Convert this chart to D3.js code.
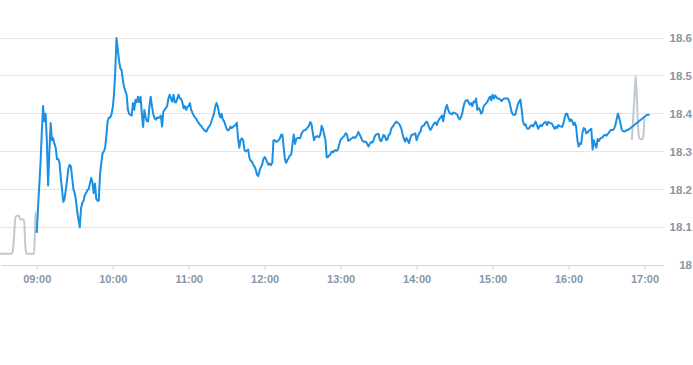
<!DOCTYPE html>
<html>
<head>
<meta charset="utf-8">
<script src="https://cdn.jsdelivr.net/npm/d3@7"></script>
<style>
  body { margin: 0; background: #fff; overflow: hidden; }
  svg { display: block; font-family: "Open Sans", "DejaVu Sans", sans-serif; }
</style>
</head>
<body>
<svg id="chart" width="693" height="365"></svg>
<script>
// session window shown on the x axis
const domainStart = "08:31";
const domainEnd = "17:15";
const yTicks = [18, 18.1, 18.2, 18.3, 18.4, 18.5, 18.6];

// pre / post market (grey)
const greyTimes = ["08:31", "08:40", "08:41", "08:42", "08:43", "08:44", "08:46", "08:47", "08:50", "08:51", "08:52", "08:58", "08:59", "09:00"];
const greyValues = [18.03, 18.03, 18.035, 18.07, 18.12, 18.13, 18.13, 18.12, 18.12, 18.05, 18.03, 18.03, 18.14, 18.085];
const greyTimes2 = ["16:50", "16:52", "16:53", "16:54", "16:55", "16:56", "16:58", "16:59", "17:00"];
const greyValues2 = [18.33, 18.44, 18.50, 18.44, 18.36, 18.335, 18.332, 18.34, 18.39];

// regular session, one value per minute from 09:00 (null = no trade)
const blueStart = "09:00";
const blueValues = [
  18.085, 18.15, 18.21, 18.27, 18.35, 18.42, 18.38, 18.40, 18.33, 18.21,
  18.30, 18.375, 18.33, 18.335, 18.32, 18.31, 18.28, 18.28, 18.27, 18.23,
  18.20, 18.167, 18.175, 18.20, 18.225, 18.255, 18.265, 18.26, 18.23, 18.20,
  18.19, 18.17, 18.14, 18.12, 18.10, 18.15, 18.164, 18.17, 18.185, 18.19,
  18.198, 18.20, 18.215, 18.23, 18.22, 18.19, 18.215, 18.175, 18.17, 18.17,
  18.24, 18.27, 18.295, 18.30, 18.31, 18.34, 18.38, 18.39, 18.39, 18.397,
  18.415, 18.45, 18.51, 18.60, 18.57, 18.54, 18.52, 18.515, 18.49, 18.47,
  18.46, 18.45, 18.41, 18.40, 18.397, 18.395, 18.428, 18.41, 18.437, 18.43,
  18.445, 18.43, 18.445, 18.40, 18.365, 18.41, 18.39, 18.38, 18.38, 18.42,
  18.445, 18.42, 18.40, 18.388, 18.384, 18.39, 18.388, 18.39, 18.395, 18.366,
  18.405, 18.41, 18.415, 18.42, 18.44, 18.45, 18.44, 18.432, 18.45, 18.43,
  18.43, 18.44, 18.45, 18.44, 18.44, 18.43, 18.414, 18.42, 18.41, 18.418,
  18.42, 18.428, 18.41, 18.402, 18.395, 18.39, 18.386, 18.38, 18.375, 18.37,
  18.367, 18.362, 18.358, 18.354, 18.353, 18.36, 18.366, 18.37, 18.38, 18.39,
  18.40, 18.418, 18.428, 18.42, 18.40, 18.39, 18.40, 18.384, 18.38, 18.37,
  18.36, 18.356, 18.358, 18.366, 18.362, 18.365, 18.368, 18.37, 18.376, 18.335,
  18.31, 18.33, 18.335, 18.33, 18.305, 18.30, 18.302, 18.305, 18.283, 18.275,
  18.273, 18.265, 18.26, 18.252, 18.238, 18.235, 18.25, 18.258, 18.265, 18.28,
  18.285, 18.28, 18.272, 18.265, 18.268, 18.264, 18.27, 18.33, 18.33, 18.326,
  18.326, 18.33, 18.334, 18.344, 18.345, 18.313, 18.28, 18.27, 18.278, 18.283,
  18.29, 18.292, 18.32, 18.345, 18.32, 18.333, 18.336, 18.336, 18.335, 18.346,
  18.352, 18.356, 18.356, 18.36, 18.364, 18.368, 18.378, 18.372, 18.35, 18.33,
  18.338, 18.34, 18.34, 18.338, 18.345, 18.368, 18.36, 18.345, 18.33, 18.285,
  18.285, 18.29, 18.293, 18.30, 18.298, 18.302, 18.304, 18.302, 18.306, 18.32,
  18.331, 18.335, 18.338, 18.342, 18.348, 18.345, 18.328, 18.33, 18.333, 18.335,
  18.338, 18.336, 18.338, 18.343, 18.352, 18.345, 18.338, 18.33, 18.326, 18.326,
  18.326, 18.32, 18.313, 18.32, 18.325, 18.324, 18.33, 18.34, 18.345, 18.346,
  18.346, 18.33, 18.327, 18.335, 18.344, 18.34, 18.33, 18.332, 18.344, 18.346,
  18.36, 18.365, 18.37, 18.375, 18.379, 18.376, 18.374, 18.368, 18.36, 18.345,
  18.333, 18.326, 18.336, 18.33, 18.322, 18.335, 18.344, 18.344, 18.346, 18.348,
  18.33, 18.34, 18.348, 18.352, 18.365, 18.368, 18.37, 18.376, 18.379, 18.372,
  18.363, 18.357, 18.363, 18.37, 18.375, 18.377, 18.37, 18.38, 18.386, 18.39,
  18.395, 18.38, 18.40, 18.415, 18.423, 18.41, 18.402, 18.40, 18.398, 18.403,
  18.402, 18.40, 18.398, 18.39, 18.385, 18.39, 18.40, 18.418, 18.43, 18.435,
  18.436, 18.43, 18.424, 18.428, 18.42, 18.432, 18.43, 18.44, 18.41, 18.415,
  18.41, 18.40, 18.405, 18.42, 18.424, 18.428, 18.432, 18.44, 18.445, 18.435,
  18.45, 18.44, 18.448, 18.444, 18.44, 18.44, 18.438, 18.433, 18.437, 18.44,
  18.44, 18.44, 18.44, 18.434, 18.42, 18.405, 18.398, 18.397, 18.397, 18.412,
  18.425, 18.432, 18.437, 18.41, 18.38, 18.37, 18.372, 18.362, 18.36, 18.362,
  18.368, 18.37, 18.366, 18.372, 18.379, 18.37, 18.36, 18.366, 18.37, 18.367,
  18.373, 18.377, 18.378, 18.37, 18.378, 18.376, 18.375, 18.373, 18.366, 18.36,
  18.366, 18.362, 18.37, 18.367, 18.366, 18.365, 18.375, 18.39, 18.40, 18.40,
  18.388, 18.38, 18.385, 18.38, 18.37, 18.376, 18.365, 18.33, 18.313, 18.322,
  18.32, 18.35, 18.362, 18.36, 18.348, 18.35, 18.355, 18.357, 18.36, 18.305,
  18.33, 18.318, 18.31, 18.333, 18.328, 18.334, 18.336, 18.338, 18.343, 18.344,
  18.342, 18.347, 18.35, 18.356, 18.357, 18.357, 18.36, 18.37, 18.385, 18.40,
  18.39, 18.375, 18.358, 18.354, 18.353, 18.354, 18.357, 18.357, 18.36, 18.362,
  null, null, null, null, null, null, null, null, null, null,
  null, null, 18.397, 18.397, 18.397
];

const parse = d3.timeParse("%H:%M");
const plotW = 663.5, axisY = 265, topY = 38;

const svg = d3.select("#chart");

const x = d3.scaleTime()
  .domain([parse(domainStart), parse(domainEnd)])
  .range([0, plotW]);

const y = d3.scaleLinear()
  .domain([18, 18.6])
  .range([axisY, topY]);

// grid lines
svg.append("g")
  .selectAll("line")
  .data(yTicks.filter(d => d > 18))
  .enter()
  .append("line")
  .attr("x1", 0)
  .attr("x2", plotW)
  .attr("y1", d => y(d))
  .attr("y2", d => y(d))
  .attr("stroke", "#e6e6e6")
  .attr("stroke-width", 1)
  .attr("shape-rendering", "crispEdges");

// y axis labels, right aligned at the window edge
svg.append("g")
  .attr("transform", "translate(692,0)")
  .call(d3.axisRight(y).tickValues(yTicks).tickSize(0).tickFormat(d3.format("~g")))
  .call(g => g.select(".domain").remove())
  .selectAll("text")
  .attr("x", 0)
  .attr("text-anchor", "end")
  .attr("fill", "#8796a6")
  .style("font-size", "11.5px")
  .style("font-weight", "600");

// x axis
const xAxis = svg.append("g")
  .attr("transform", "translate(0," + axisY + ")")
  .call(d3.axisBottom(x).ticks(d3.timeHour.every(1)).tickFormat(d3.timeFormat("%H:%M")).tickSize(5).tickSizeOuter(0));

xAxis.select(".domain")
  .attr("stroke", "#ccd6eb")
  .attr("shape-rendering", "crispEdges");
xAxis.selectAll(".tick line")
  .attr("stroke", "#ccd6eb");
xAxis.selectAll("text")
  .attr("y", 10)
  .attr("fill", "#8796a6")
  .style("font-size", "11px")
  .style("font-weight", "600");

// series
const greyData = greyTimes.map((t, i) => ({ t: parse(t), v: greyValues[i] }));
const greyData2 = greyTimes2.map((t, i) => ({ t: parse(t), v: greyValues2[i] }));
const start = parse(blueStart);
const blueData = blueValues
  .map((v, i) => ({ t: d3.timeMinute.offset(start, i), v: v }))
  .filter(d => d.v !== null);

const smooth = d3.line()
  .x(d => x(d.t))
  .y(d => y(d.v))
  .curve(d3.curveMonotoneX);

const straight = d3.line()
  .x(d => x(d.t))
  .y(d => y(d.v));

[greyData, greyData2].forEach(data => {
  svg.append("path")
    .datum(data)
    .attr("fill", "none")
    .attr("stroke", "#c0c9d0")
    .attr("stroke-width", 2)
    .attr("stroke-linejoin", "round")
    .attr("d", smooth);
});

svg.append("path")
  .datum(blueData)
  .attr("fill", "none")
  .attr("stroke", "#1a8fe3")
  .attr("stroke-width", 2)
  .attr("stroke-linejoin", "round")
  .attr("d", straight);
</script>
</body>
</html>
